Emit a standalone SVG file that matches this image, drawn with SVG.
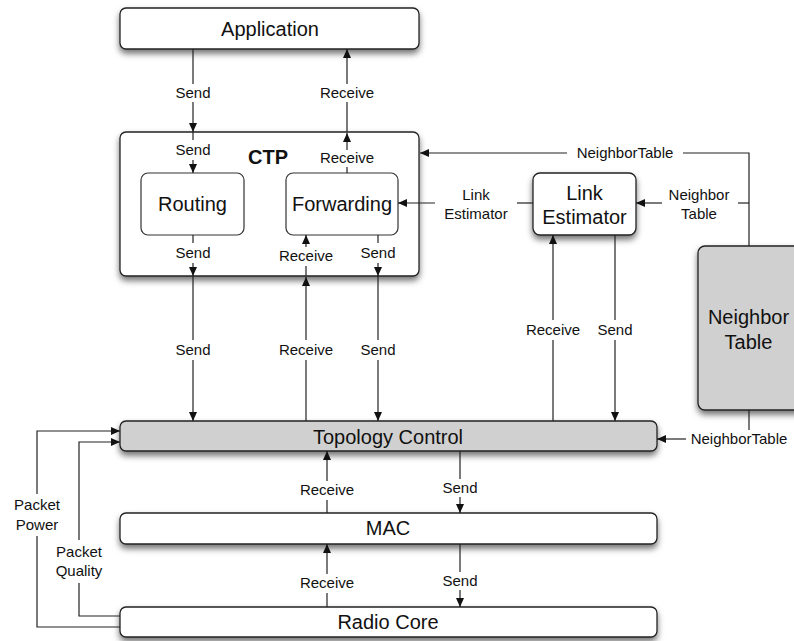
<svg xmlns="http://www.w3.org/2000/svg" width="794" height="641" viewBox="0 0 794 641">
<defs>
<filter id="sh" x="-10%" y="-20%" width="120%" height="160%">
<feDropShadow dx="0" dy="4" stdDeviation="3" flood-color="#000" flood-opacity="0.55"/>
</filter>
<marker id="ar" markerUnits="userSpaceOnUse" markerWidth="10" markerHeight="8" refX="9" refY="4" orient="auto">
<path d="M0,0 L9,4 L0,8 z" fill="#111"/>
</marker>
<style>
.box{fill:#fff;stroke:#222;stroke-width:1.3;filter:url(#sh)}
.gray{fill:#d0d0d0}
.inner{fill:#fff;stroke:#333;stroke-width:1.2}
.main{font-family:"Liberation Sans",Arial,sans-serif;font-size:20px;fill:#111;text-anchor:middle}
.lab{font-family:"Liberation Sans",Arial,sans-serif;font-size:15px;fill:#111;text-anchor:middle}
.bold{font-weight:bold}
#connectors line,#connectors path{stroke:#222;stroke-width:1.2;fill:none}
.m{marker-end:url(#ar)}
</style>
</defs>
<rect width="794" height="641" fill="#fff"/>

<g id="application">
<rect class="box" x="120" y="8" width="299" height="41" rx="6"/>
<text class="main" x="270" y="36">Application</text>
</g>
<g id="ctp">
<rect class="box" x="120" y="132" width="299" height="144" rx="6"/>
<text class="main bold" x="268" y="164">CTP</text>
</g>
<g id="routing">
<rect class="inner" x="141" y="173" width="103" height="62" rx="7"/>
<text class="main" x="192.5" y="211">Routing</text>
</g>
<g id="forwarding">
<rect class="inner" x="286" y="173" width="112" height="62" rx="7"/>
<text class="main" x="342" y="211">Forwarding</text>
</g>
<g id="link-estimator">
<rect class="box" x="533" y="173" width="103" height="62" rx="7"/>
<text class="main" x="584.5" y="200">Link</text>
<text class="main" x="584.5" y="224">Estimator</text>
</g>
<g id="neighbor-table">
<rect class="box gray" x="698" y="246" width="110" height="164" rx="7"/>
<text class="main" x="748.5" y="324">Neighbor</text>
<text class="main" x="748.5" y="349">Table</text>
</g>
<g id="topology-control">
<rect class="box gray" x="120" y="421" width="537" height="30" rx="6"/>
<text class="main" x="388" y="444">Topology Control</text>
</g>
<g id="mac">
<rect class="box" x="120" y="513" width="537" height="31" rx="6"/>
<text class="main" x="388" y="535">MAC</text>
</g>
<g id="radio-core">
<rect class="box" x="120" y="607" width="537" height="30" rx="6"/>
<text class="main" x="388" y="629">Radio Core</text>
</g>

<g id="connectors">
<line x1="193" y1="49" x2="193" y2="84"/><line class="m" x1="193" y1="102" x2="193" y2="132"/>
<line x1="347" y1="132" x2="347" y2="102"/><line class="m" x1="347" y1="84" x2="347" y2="49"/>
<line x1="193" y1="132" x2="193" y2="140"/><line class="m" x1="193" y1="160" x2="193" y2="173"/>
<line x1="347" y1="173" x2="347" y2="167"/><line class="m" x1="347" y1="150" x2="347" y2="133"/>
<line x1="193" y1="235" x2="193" y2="243"/><line class="m" x1="193" y1="263" x2="193" y2="276"/>
<line x1="306" y1="276" x2="306" y2="266"/><line class="m" x1="306" y1="247" x2="306" y2="235"/>
<line x1="378" y1="235" x2="378" y2="243"/><line class="m" x1="378" y1="263" x2="378" y2="276"/>
<line x1="193" y1="276" x2="193" y2="340"/><line class="m" x1="193" y1="360" x2="193" y2="421"/>
<line x1="306" y1="421" x2="306" y2="360"/><line class="m" x1="306" y1="340" x2="306" y2="277"/>
<line x1="378" y1="276" x2="378" y2="340"/><line class="m" x1="378" y1="360" x2="378" y2="421"/>
<line x1="553" y1="421" x2="553" y2="340"/><line class="m" x1="553" y1="320" x2="553" y2="235"/>
<line x1="615" y1="235" x2="615" y2="320"/><line class="m" x1="615" y1="340" x2="615" y2="421"/>
<line x1="533" y1="203" x2="517" y2="203"/><line class="m" x1="435" y1="203" x2="398" y2="203"/>
<line x1="749" y1="203" x2="738" y2="203"/><line class="m" x1="662" y1="203" x2="636" y2="203"/>
<path d="M749,246 V153 H683"/><line class="m" x1="567" y1="153" x2="420" y2="153"/>
<line x1="749" y1="410" x2="749" y2="430"/><line class="m" x1="686" y1="439" x2="657" y2="439"/>
<line x1="327" y1="513" x2="327" y2="500"/><line class="m" x1="327" y1="481" x2="327" y2="451"/>
<line x1="460" y1="451" x2="460" y2="479"/><line class="m" x1="460" y1="497" x2="460" y2="513"/>
<line x1="327" y1="607" x2="327" y2="593"/><line class="m" x1="327" y1="574" x2="327" y2="544"/>
<line x1="460" y1="544" x2="460" y2="572"/><line class="m" x1="460" y1="590" x2="460" y2="607"/>
<path d="M120,627 H37 V536"/><path class="m" d="M37,494 V431 H120"/>
<path d="M120,616 H79 V583"/><path class="m" d="M79,540 V442 H120"/>
</g>

<g id="labels">
<text class="lab" x="193" y="98">Send</text>
<text class="lab" x="347" y="98">Receive</text>
<text class="lab" x="193" y="155">Send</text>
<text class="lab" x="347" y="163">Receive</text>
<text class="lab" x="193" y="258">Send</text>
<text class="lab" x="306" y="261">Receive</text>
<text class="lab" x="378" y="258">Send</text>
<text class="lab" x="193" y="355">Send</text>
<text class="lab" x="306" y="355">Receive</text>
<text class="lab" x="378" y="355">Send</text>
<text class="lab" x="553" y="335">Receive</text>
<text class="lab" x="615" y="335">Send</text>
<text class="lab" x="476" y="200">Link</text>
<text class="lab" x="476" y="219">Estimator</text>
<text class="lab" x="699" y="200">Neighbor</text>
<text class="lab" x="699" y="219">Table</text>
<text class="lab" x="625" y="158">NeighborTable</text>
<text class="lab" x="739" y="444">NeighborTable</text>
<text class="lab" x="327" y="495">Receive</text>
<text class="lab" x="460" y="493">Send</text>
<text class="lab" x="327" y="588">Receive</text>
<text class="lab" x="460" y="586">Send</text>
<text class="lab" x="37" y="510">Packet</text>
<text class="lab" x="37" y="530">Power</text>
<text class="lab" x="79" y="557">Packet</text>
<text class="lab" x="79" y="576">Quality</text>
</g>
</svg>
